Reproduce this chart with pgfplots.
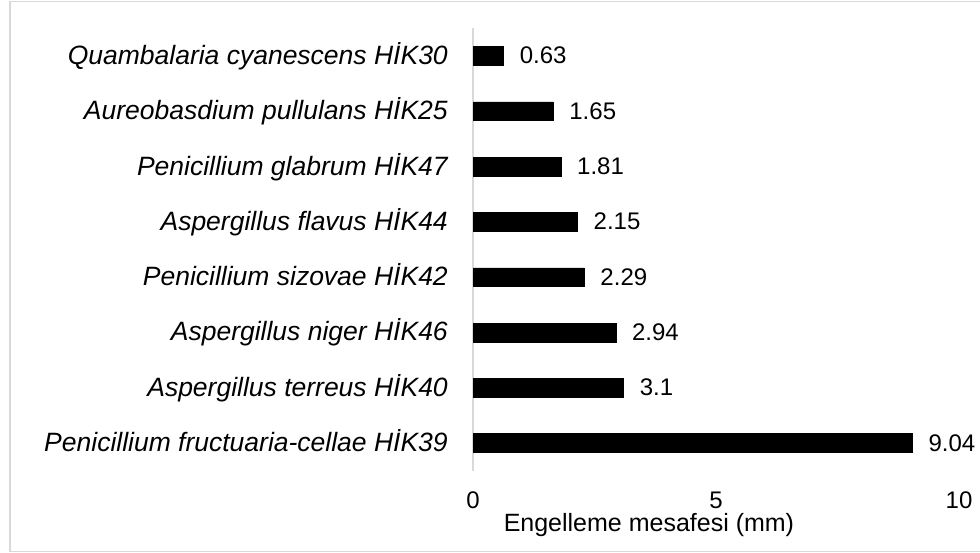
\documentclass[border=0pt]{standalone}
\usepackage{pgfplots}
\pgfplotsset{compat=1.18}
\usepackage{fontspec}
\setmainfont{Liberation Sans}
\definecolor{framegray}{RGB}{217,217,217}
\begin{document}
\begin{tikzpicture}
\useasboundingbox (0,0) rectangle (980pt,553pt);
\draw[framegray, line width=1.3pt] (980pt,551.7pt) -- (10pt,551.7pt) -- (10pt,1.3pt) -- (980pt,1.3pt);
\begin{axis}[
  at={(473pt,82.3pt)}, anchor=south west,
  scale only axis,
  width=486pt, height=442.4pt,
  xbar, bar width=18.7pt,
  xmin=0, xmax=10,
  ymin=-0.5, ymax=7.5,
  xtick={0,5,10},
  ytick={0,1,2,3,4,5,6,7},
  yticklabels={
    Penicillium fructuaria-cellae HİK39,
    Aspergillus terreus HİK40,
    Aspergillus niger HİK46,
    Penicillium sizovae HİK42,
    Aspergillus flavus HİK44,
    Penicillium glabrum HİK47,
    Aureobasdium pullulans HİK25,
    Quambalaria cyanescens HİK30},
  axis x line*=bottom, axis y line*=left,
  axis line style={-},
  x axis line style={draw=none},
  y axis line style={draw=framegray, line width=1.3pt},
  major tick length=0pt,
  /pgf/number format/assume math mode=true,
  yticklabel style={font=\fontsize{26.5}{30}\selectfont\itshape, anchor=base east, inner sep=0pt, xshift=-25pt, yshift=-8.5pt},
  xticklabel style={font=\fontsize{24}{28}\selectfont, anchor=base, inner sep=0pt, yshift=-37.6pt},
  xlabel={Engelleme mesafesi (mm)},
  xlabel style={font=\fontsize{25}{29}\selectfont, at={(axis description cs:0.362,0)}, anchor=base, inner sep=0pt, yshift=-61pt},
  nodes near coords,
  point meta=explicit symbolic,
  nodes near coords style={font=\fontsize{24}{28}\selectfont, anchor=base west, inner sep=0pt, xshift=16pt, yshift=-8pt, black},
]
\addplot[fill=black, draw=black] table[meta=lab] {
x y lab
9.04 0 9.04
3.1 1 3.1
2.94 2 2.94
2.29 3 2.29
2.15 4 2.15
1.81 5 1.81
1.65 6 1.65
0.63 7 0.63
};
\end{axis}
\end{tikzpicture}
\end{document}
